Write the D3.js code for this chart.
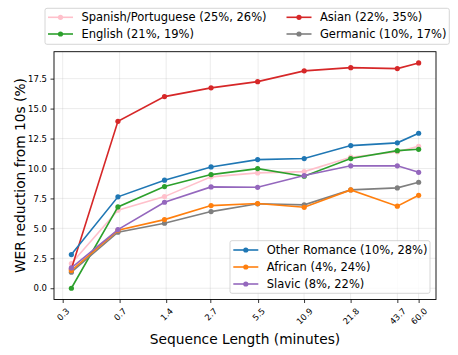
<!DOCTYPE html>
<html><head><meta charset="utf-8">
<script src="https://cdn.jsdelivr.net/npm/d3@7"></script>
<style>body{margin:0;background:#fff}svg{display:block;font-family:"DejaVu Sans",sans-serif}</style>
</head><body><svg id="c" width="458" height="355"></svg>
<script>
const minutes = [0.3413, 0.6827, 1.3653, 2.7307, 5.4613, 10.9227, 21.8453, 43.6907, 60.0];
const tickValues = [0.3, 0.7, 1.4, 2.7, 5.5, 10.9, 21.8, 43.7, 60.0];
const tickLabels = ["0.3", "0.7", "1.4", "2.7", "5.5", "10.9", "21.8", "43.7", "60.0"];
const yTicks = [0, 2.5, 5, 7.5, 10, 12.5, 15, 17.5];

const spanishPortuguese = [2.06, 6.51, 7.65, 9.30, 9.63, 9.74, 10.94, 11.40, 11.85];
const english = [0.0, 6.79, 8.49, 9.49, 9.99, 9.35, 10.83, 11.49, 11.60];
const asian = [1.60, 13.94, 16.00, 16.73, 17.25, 18.15, 18.42, 18.34, 18.81];
const germanic = [1.34, 4.68, 5.43, 6.40, 7.05, 6.96, 8.21, 8.38, 8.85];
const otherRomance = [2.81, 7.63, 9.02, 10.13, 10.74, 10.83, 11.91, 12.14, 12.94];
const african = [1.48, 4.84, 5.73, 6.90, 7.07, 6.76, 8.21, 6.85, 7.76];
const slavic = [1.70, 4.90, 7.18, 8.46, 8.43, 9.41, 10.22, 10.22, 9.68];

const series = [
  {name: "Spanish/Portuguese (25%, 26%)", values: spanishPortuguese, color: "#ffc0cb", legend: 0},
  {name: "English (21%, 19%)", values: english, color: "#2ca02c", legend: 0},
  {name: "Asian (22%, 35%)", values: asian, color: "#d62728", legend: 0},
  {name: "Germanic (10%, 17%)", values: germanic, color: "#7f7f7f", legend: 0},
  {name: "Other Romance (10%, 28%)", values: otherRomance, color: "#1f77b4", legend: 1},
  {name: "African (4%, 24%)", values: african, color: "#ff7f0e", legend: 1},
  {name: "Slavic (8%, 22%)", values: slavic, color: "#9467bd", legend: 1}
];

const svg = d3.select("#c");
const L = 54, R = 436, T = 51.7, B = 299.5;
const xmin = d3.min(minutes), xmax = d3.max(minutes);
const xpad = Math.log(xmax / xmin) * 0.05;
const x = d3.scaleLog().domain([xmin / Math.exp(xpad), xmax * Math.exp(xpad)]).range([L, R]);
const ymax = d3.max(series, s => d3.max(s.values)), ymin = 0;
const ypad = (ymax - ymin) * 0.05;
const y = d3.scaleLinear().domain([ymin - ypad, ymax + ypad]).range([B, T]);

// grid
const g = svg.append("g");
g.selectAll(".gx").data(tickValues).join("line")
  .attr("x1", d => x(d)).attr("x2", d => x(d)).attr("y1", T).attr("y2", B)
  .attr("stroke", "#b0b0b0").attr("stroke-opacity", 0.3).attr("stroke-width", 0.8);
g.selectAll(".gy").data(yTicks).join("line")
  .attr("x1", L).attr("x2", R).attr("y1", d => y(d)).attr("y2", d => y(d))
  .attr("stroke", "#b0b0b0").attr("stroke-opacity", 0.3).attr("stroke-width", 0.8);

// axes
const FS = 8.5;
const xAxis = d3.axisBottom(x).tickValues(tickValues).tickFormat((d, i) => tickLabels[i]).tickSizeOuter(0).tickSize(3.5);
const xg = svg.append("g").attr("transform", `translate(0,${B})`).call(xAxis);
xg.select(".domain").remove();
xg.selectAll("line").attr("stroke", "#000").attr("stroke-width", 0.8);
xg.selectAll("text").each(function() {
  const t = d3.select(this);
  t.attr("font-size", FS).attr("font-family", "DejaVu Sans").attr("fill", "#000");
  const len = this.getComputedTextLength();
  const h = (len + FS) * Math.SQRT1_2;
  t.attr("dy", null).attr("y", 0)
   .attr("text-anchor", "middle").attr("dominant-baseline", "central")
   .attr("transform", `translate(0,${7 + h / 2}) rotate(-45)`);
});

const yAxis = d3.axisLeft(y).tickValues(yTicks).tickFormat(d3.format(".1f")).tickSizeOuter(0).tickSize(3.5).tickPadding(3.5);
const yg = svg.append("g").attr("transform", `translate(${L},0)`).call(yAxis);
yg.select(".domain").remove();
yg.selectAll("line").attr("stroke", "#000").attr("stroke-width", 0.8);
yg.selectAll("text").attr("font-size", FS).attr("font-family", "DejaVu Sans").attr("fill", "#000");

// lines
const line = d3.line().x((d, i) => x(minutes[i])).y(d => y(d));
series.forEach(s => {
  svg.append("path").datum(s.values).attr("d", line)
    .attr("fill", "none").attr("stroke", s.color).attr("stroke-width", 1.6);
  svg.append("g").selectAll("circle").data(s.values).join("circle")
    .attr("cx", (d, i) => x(minutes[i])).attr("cy", d => y(d)).attr("r", 2.6).attr("fill", s.color);
});

// spines
svg.append("rect").attr("x", L).attr("y", T).attr("width", R - L).attr("height", B - T)
  .attr("fill", "none").attr("stroke", "#000").attr("stroke-width", 0.9);

// axis labels
svg.append("text").attr("x", (L + R) / 2).attr("y", 344).attr("text-anchor", "middle")
  .attr("font-size", 13.75).text("Sequence Length (minutes)");
svg.append("text").attr("transform", `translate(25,${(T + B) / 2}) rotate(-90)`).attr("text-anchor", "middle")
  .attr("font-size", 13.75).text("WER reduction from 10s (%)");

// legends
function legendEntry(gr, s, lx, ly) {
  gr.append("line").attr("x1", lx).attr("x2", lx + 25).attr("y1", ly).attr("y2", ly)
    .attr("stroke", s.color).attr("stroke-width", 1.6);
  gr.append("circle").attr("cx", lx + 12.5).attr("cy", ly).attr("r", 2.6).attr("fill", s.color);
  gr.append("text").attr("x", lx + 33.4).attr("y", ly).attr("dominant-baseline", "central")
    .attr("font-size", 11.5).text(s.name);
}
const lg1 = svg.append("g");
lg1.append("rect").attr("x", 45).attr("y", 8.3).attr("width", 404.3).attr("height", 36)
  .attr("rx", 2).attr("fill", "#fff").attr("fill-opacity", 0.8).attr("stroke", "#ccc").attr("stroke-width", 0.8);
const topSeries = series.filter(s => s.legend === 0);
topSeries.forEach((s, i) => {
  const col = Math.floor(i / 2), row = i % 2;
  legendEntry(lg1, s, col === 0 ? 48 : 286.5, row === 0 ? 17.3 : 34);
});
const lg2 = svg.append("g");
lg2.append("rect").attr("x", 230).attr("y", 240.7).attr("width", 200).attr("height", 52.6)
  .attr("rx", 2).attr("fill", "#fff").attr("fill-opacity", 0.8).attr("stroke", "#ccc").attr("stroke-width", 0.8);
series.filter(s => s.legend === 1).forEach((s, i) => {
  legendEntry(lg2, s, 233.3, 250 + i * 17);
});
</script></body></html>
